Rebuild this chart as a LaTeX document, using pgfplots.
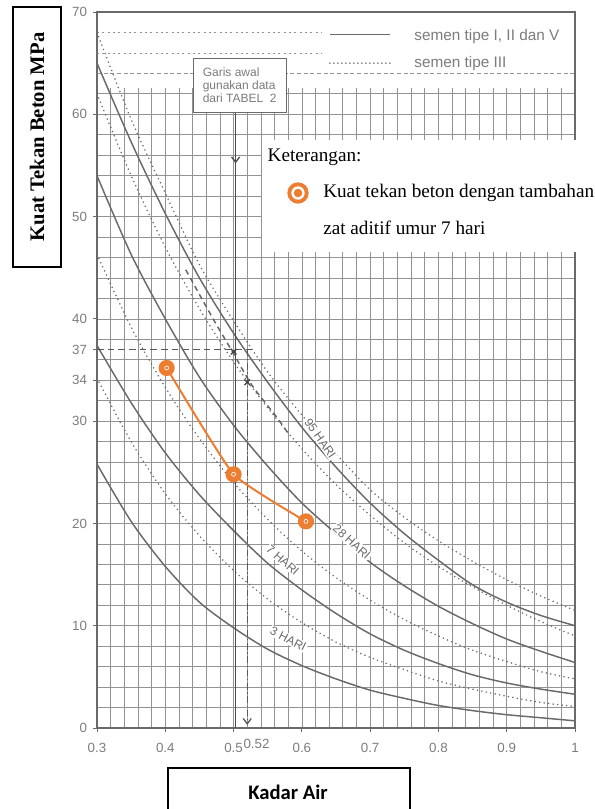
\documentclass[border=0pt]{standalone}
\usepackage{fontspec}
\setmainfont{Liberation Sans}
\newfontfamily\timesf{Liberation Serif}
\newfontfamily\carlito{Carlito}
\usepackage{pgfplots}
\pgfplotsset{compat=1.18}
\usetikzlibrary{arrows.meta}
\definecolor{chartgray}{HTML}{6A6A6A}
\definecolor{gridgray}{HTML}{939393}
\definecolor{txtgray}{HTML}{7C7C7C}
\definecolor{orangeA}{HTML}{ED7D31}
\begin{document}
\begin{tikzpicture}
\path[use as bounding box] (-72.75pt,-60.75pt) rectangle (373.5pt,546pt);
\begin{axis}[
  at={(0pt,0pt)}, anchor=south west,
  scale only axis, width=358.5pt, height=537pt,
  xmin=0.3, xmax=1, ymin=0, ymax=70,
  axis line style={draw=chartgray, line width=0.9pt},
  xtick={0.3,0.4,0.5,0.6,0.7,0.8,0.9,1},
  xticklabels={0.3,0.4,0.5,0.6,0.7,0.8,0.9,1},
  extra x ticks={0.52},
  extra x tick labels={0.52},
  extra x tick style={grid=none, major tick length=0pt, xticklabel style={xshift=7pt}},
  ytick={0,10,20,30,34,37,40,50,60,70},
  minor xtick={0.3,0.32,0.34,0.36,0.38,0.4,0.42,0.44,0.46,0.48,0.5,0.52,0.54,0.56,0.58,0.6,0.62,0.64,0.66,0.68,0.7,0.72,0.74,0.76,0.78,0.8,0.82,0.84,0.86,0.88,0.9,0.92,0.94,0.96,0.98,1},
  minor ytick={0,2,...,70},
  grid=minor,
  minor grid style={draw=gridgray, line width=0.5pt},
  minor tick length=0pt,
  major tick length=3pt,
  tick align=outside,
  xtick pos=bottom, ytick pos=left,
  tick style={draw=chartgray, line width=0.6pt},
  tick label style={font=\fontsize{10}{12}\selectfont, text=txtgray},
  xticklabel style={yshift=-5pt},
  yticklabel style={xshift=-1pt},
  /pgf/number format/assume math mode=true,
]
% lighter top band
\fill[white] (axis cs:0.3015,62.6) rectangle (axis cs:0.9985,69.93);
\draw[gridgray, line width=0.5pt, dash pattern=on 3pt off 2pt] (axis cs:0.3,64) -- (axis cs:1,64);
\draw[gridgray, line width=0.5pt, dash pattern=on 1.5pt off 2.5pt] (axis cs:0.3,66) -- (axis cs:0.63,66);
\draw[gridgray, line width=0.5pt, dash pattern=on 1.5pt off 2.5pt] (axis cs:0.3,68) -- (axis cs:0.63,68);

% semen tipe I, II dan V (solid)
\addplot[chartgray, line width=1.1pt, smooth] coordinates {(0.3,65.0)(0.35,57.3)(0.4,50.3)(0.45,44.0)(0.5,38.6)(0.55,33.8)(0.6,29.4)(0.65,25.5)(0.7,22.0)(0.75,19.0)(0.8,16.4)(0.85,14.0)(0.9,12.3)(0.95,11.0)(1.0,10.0)};
\addplot[chartgray, line width=1.1pt, smooth] coordinates {(0.3,54.0)(0.35,46.3)(0.4,40.0)(0.45,34.3)(0.5,29.6)(0.55,25.6)(0.6,22.0)(0.65,19.0)(0.7,16.2)(0.75,13.9)(0.8,11.9)(0.85,10.2)(0.9,8.7)(0.95,7.5)(1.0,6.4)};
\addplot[chartgray, line width=1.1pt, smooth] coordinates {(0.3,37.4)(0.35,31.8)(0.4,26.9)(0.45,22.8)(0.5,19.3)(0.55,16.1)(0.6,13.5)(0.65,11.2)(0.7,9.2)(0.75,7.6)(0.8,6.3)(0.85,5.2)(0.9,4.4)(0.95,3.8)(1.0,3.3)};
\addplot[chartgray, line width=1.1pt, smooth] coordinates {(0.3,25.8)(0.35,20.2)(0.4,15.8)(0.45,12.3)(0.5,9.8)(0.55,7.7)(0.6,6.1)(0.65,4.8)(0.7,3.7)(0.75,2.9)(0.8,2.2)(0.85,1.7)(0.9,1.3)(0.95,1.0)(1.0,0.7)};

% semen tipe III (dotted)
\addplot[chartgray, line width=1.3pt, line cap=round, dash pattern=on 0pt off 3.4pt, smooth] coordinates {(0.3,68.0)(0.35,59.5)(0.4,52.3)(0.45,45.3)(0.5,39.8)(0.55,34.8)(0.6,30.6)(0.65,26.8)(0.7,23.3)(0.75,20.6)(0.8,18.3)(0.85,16.3)(0.9,14.5)(0.95,12.9)(1.0,11.5)};
\addplot[chartgray, line width=1.3pt, line cap=round, dash pattern=on 0pt off 3.4pt, smooth] coordinates {(0.3,62.0)(0.35,54.0)(0.4,47.0)(0.45,41.0)(0.5,35.8)(0.55,31.3)(0.6,27.3)(0.65,23.8)(0.7,20.8)(0.75,18.1)(0.8,15.8)(0.85,13.8)(0.9,12.0)(0.95,10.4)(1.0,9.0)};
\addplot[chartgray, line width=1.3pt, line cap=round, dash pattern=on 0pt off 3.4pt, smooth] coordinates {(0.3,46.3)(0.35,39.2)(0.4,33.3)(0.45,28.3)(0.5,24.0)(0.55,20.4)(0.6,17.3)(0.65,14.7)(0.7,12.5)(0.75,10.6)(0.8,9.0)(0.85,7.6)(0.9,6.5)(0.95,5.5)(1.0,4.8)};
\addplot[chartgray, line width=1.3pt, line cap=round, dash pattern=on 0pt off 3.4pt, smooth] coordinates {(0.3,34.2)(0.35,28.0)(0.4,22.9)(0.45,18.8)(0.5,15.4)(0.55,12.6)(0.6,10.3)(0.65,8.4)(0.7,6.9)(0.75,5.7)(0.8,4.6)(0.85,3.8)(0.9,3.1)(0.95,2.5)(1.0,2.1)};

% hand drawn construction lines
\addplot[black!65, line width=1.2pt, dash pattern=on 5pt off 3pt] coordinates {(0.3,37)(0.527,37)};
\addplot[black!60, line width=1.1pt, dash pattern=on 4pt off 3pt, smooth] coordinates {(0.43,44.8)(0.47,40.0)(0.5,36.6)(0.527,33.5)(0.563,30.4)(0.58,28.8)};
\addplot[only marks, mark=x, mark size=3pt, black!75, line width=0.9pt] coordinates {(0.5,36.8)(0.52,33.8)};
\draw[black!65, line width=1pt, dash pattern=on 5pt off 2pt on 1pt off 2pt, -{Straight Barb[length=4pt,width=6pt]}] (axis cs:0.52,37) -- (axis cs:0.52,0.3);
\draw[black!70, line width=1pt] (axis cs:0.503,60.2) -- (axis cs:0.503,0);
\draw[black!70, line width=1pt, -{Straight Barb[length=4pt,width=6pt]}] (axis cs:0.503,60.2) -- (axis cs:0.503,55.2);

% curve labels
\node[rotate=-55, fill=white, inner sep=0.8pt, text=chartgray, font=\fontsize{9}{10}\selectfont] at (axis cs:0.627,28.3) {95 HARI};
\node[rotate=-42, fill=white, inner sep=0.8pt, text=chartgray, font=\fontsize{9}{10}\selectfont] at (axis cs:0.673,18.2) {28 HARI};
\node[rotate=-41, fill=white, inner sep=0.8pt, text=chartgray, font=\fontsize{9}{10}\selectfont] at (axis cs:0.572,16.4) {7 HARI};
\node[rotate=-27, fill=white, inner sep=0.8pt, text=chartgray, font=\fontsize{9}{10}\selectfont] at (axis cs:0.58,8.7) {3 HARI};

% Garis awal box
\draw[chartgray, fill=white, line width=0.6pt] (axis cs:0.4406,60.2) rectangle (axis cs:0.578,65.5);
\node[anchor=west, align=left, text=txtgray, font=\fontsize{9}{10}\selectfont] at (axis cs:0.448,62.85) {Garis awal\\gunakan data\\dari TABEL~~2};

% legend (semen)
\draw[chartgray, line width=1.3pt] (axis cs:0.641,67.8) -- (axis cs:0.729,67.8);
\draw[chartgray, line width=1.4pt, line cap=round, dash pattern=on 0pt off 3pt] (axis cs:0.641,65.0) -- (axis cs:0.729,65.0);
\node[anchor=west, text=txtgray, font=\fontsize{11.5}{13}\selectfont] at (axis cs:0.758,67.6) {semen tipe I, II dan  V};
\node[anchor=west, text=txtgray, font=\fontsize{11.5}{13}\selectfont] at (axis cs:0.758,65.0) {semen tipe III};

% data: kuat tekan beton dengan zat aditif umur 7 hari
\addplot[orangeA, line width=1.5pt, smooth, tension=0.25, mark=*, mark size=5.3pt, mark options={fill=orangeA, draw=orangeA}] coordinates {(0.402,35.2)(0.5,24.8)(0.606,20.2)};
\addplot[only marks, mark=o, mark size=1.5pt, mark options={draw=white, line width=0.5pt}] coordinates {(0.402,35.2)(0.5,24.8)(0.606,20.2)};
\end{axis}

% Keterangan box
\fill[white] (123.75pt,357pt) rectangle (381.75pt,441pt);
\node[anchor=west, font=\timesf\fontsize{14.4}{16}\selectfont] at (124.5pt,428pt) {Keterangan:};
\fill[orangeA] (150.75pt,401.25pt) circle (8pt);
\fill[white] (150.75pt,401.25pt) circle (5pt);
\fill[orangeA] (150.75pt,401.25pt) circle (3.2pt);
\node[anchor=west, inner sep=0pt, font=\timesf\fontsize{14.4}{16}\selectfont] at (169.5pt,401.25pt) {Kuat tekan beton dengan tambahan};
\node[anchor=west, inner sep=0pt, font=\timesf\fontsize{14.4}{16}\selectfont] at (169.5pt,375pt) {zat aditif umur 7 hari};

% axis title boxes
\draw[black, line width=0.9pt, fill=white] (-63pt,345.75pt) rectangle (-27pt,540.75pt);
\node[rotate=90, font=\timesf\bfseries\fontsize{15.5}{17}\selectfont] at (-45pt,443.25pt) {Kuat Tekan Beton MPa};
\draw[black, line width=0.9pt, fill=white] (53.25pt,-64pt) rectangle (234.75pt,-30pt);
\node[font=\carlito\bfseries\fontsize{15.5}{17}\selectfont] at (143.25pt,-48pt) {Kadar Air};
\end{tikzpicture}
\end{document}
